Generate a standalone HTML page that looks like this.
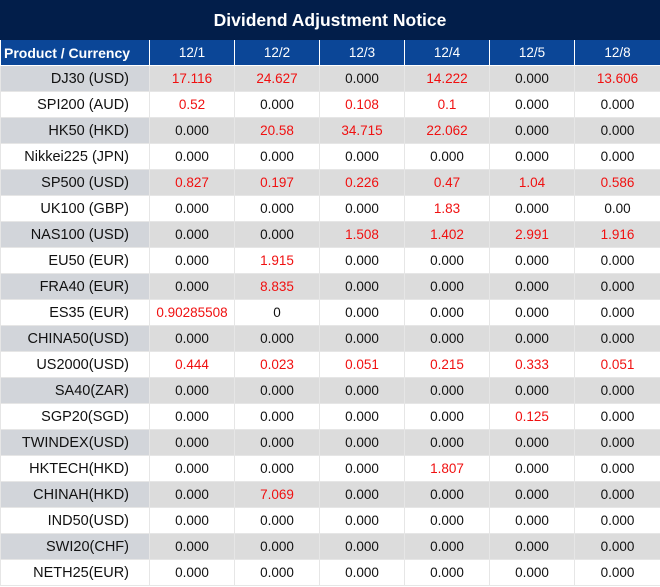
<!DOCTYPE html><html><head><style>
body{margin:0;width:660px;height:587px;overflow:hidden;background:#fff;font-family:"Liberation Sans",sans-serif}
.t{height:40px;background:#021e4a;color:#fff;font-weight:bold;font-size:17.5px;text-align:center;line-height:40px}
table{border-collapse:collapse;table-layout:fixed;width:660px}
td{height:25px;padding:0;border:1px solid #e6e6e6;font-size:13.5px;text-align:center;color:#111;white-space:nowrap}
tr.h td{background:#0b4697;color:#fff;border:1px solid #fff;border-top:none;font-size:13.5px}
tr.h td:first-child{font-weight:bold;text-align:left;padding-left:3px;font-size:14px}
td:first-child{text-align:right;padding-right:20px;font-size:14.5px}
tr.g td{background:#dcdcdc}
tr.g td:first-child{background:#d2d5da}
.r{color:#f01010}
</style></head><body>
<div class="t">Dividend Adjustment Notice</div>
<table>
<colgroup><col style="width:149px"><col style="width:85px"><col style="width:85px"><col style="width:85px"><col style="width:85px"><col style="width:85px"><col style="width:86px"></colgroup>
<tr class="h"><td>Product / Currency</td><td>12/1</td><td>12/2</td><td>12/3</td><td>12/4</td><td>12/5</td><td>12/8</td></tr>
<tr class="g"><td>DJ30 (USD)</td><td class="r">17.116</td><td class="r">24.627</td><td>0.000</td><td class="r">14.222</td><td>0.000</td><td class="r">13.606</td></tr>
<tr><td>SPI200 (AUD)</td><td class="r">0.52</td><td>0.000</td><td class="r">0.108</td><td class="r">0.1</td><td>0.000</td><td>0.000</td></tr>
<tr class="g"><td>HK50 (HKD)</td><td>0.000</td><td class="r">20.58</td><td class="r">34.715</td><td class="r">22.062</td><td>0.000</td><td>0.000</td></tr>
<tr><td>Nikkei225 (JPN)</td><td>0.000</td><td>0.000</td><td>0.000</td><td>0.000</td><td>0.000</td><td>0.000</td></tr>
<tr class="g"><td>SP500 (USD)</td><td class="r">0.827</td><td class="r">0.197</td><td class="r">0.226</td><td class="r">0.47</td><td class="r">1.04</td><td class="r">0.586</td></tr>
<tr><td>UK100 (GBP)</td><td>0.000</td><td>0.000</td><td>0.000</td><td class="r">1.83</td><td>0.000</td><td>0.00</td></tr>
<tr class="g"><td>NAS100 (USD)</td><td>0.000</td><td>0.000</td><td class="r">1.508</td><td class="r">1.402</td><td class="r">2.991</td><td class="r">1.916</td></tr>
<tr><td>EU50 (EUR)</td><td>0.000</td><td class="r">1.915</td><td>0.000</td><td>0.000</td><td>0.000</td><td>0.000</td></tr>
<tr class="g"><td>FRA40 (EUR)</td><td>0.000</td><td class="r">8.835</td><td>0.000</td><td>0.000</td><td>0.000</td><td>0.000</td></tr>
<tr><td>ES35 (EUR)</td><td class="r">0.90285508</td><td>0</td><td>0.000</td><td>0.000</td><td>0.000</td><td>0.000</td></tr>
<tr class="g"><td>CHINA50(USD)</td><td>0.000</td><td>0.000</td><td>0.000</td><td>0.000</td><td>0.000</td><td>0.000</td></tr>
<tr><td>US2000(USD)</td><td class="r">0.444</td><td class="r">0.023</td><td class="r">0.051</td><td class="r">0.215</td><td class="r">0.333</td><td class="r">0.051</td></tr>
<tr class="g"><td>SA40(ZAR)</td><td>0.000</td><td>0.000</td><td>0.000</td><td>0.000</td><td>0.000</td><td>0.000</td></tr>
<tr><td>SGP20(SGD)</td><td>0.000</td><td>0.000</td><td>0.000</td><td>0.000</td><td class="r">0.125</td><td>0.000</td></tr>
<tr class="g"><td>TWINDEX(USD)</td><td>0.000</td><td>0.000</td><td>0.000</td><td>0.000</td><td>0.000</td><td>0.000</td></tr>
<tr><td>HKTECH(HKD)</td><td>0.000</td><td>0.000</td><td>0.000</td><td class="r">1.807</td><td>0.000</td><td>0.000</td></tr>
<tr class="g"><td>CHINAH(HKD)</td><td>0.000</td><td class="r">7.069</td><td>0.000</td><td>0.000</td><td>0.000</td><td>0.000</td></tr>
<tr><td>IND50(USD)</td><td>0.000</td><td>0.000</td><td>0.000</td><td>0.000</td><td>0.000</td><td>0.000</td></tr>
<tr class="g"><td>SWI20(CHF)</td><td>0.000</td><td>0.000</td><td>0.000</td><td>0.000</td><td>0.000</td><td>0.000</td></tr>
<tr><td>NETH25(EUR)</td><td>0.000</td><td>0.000</td><td>0.000</td><td>0.000</td><td>0.000</td><td>0.000</td></tr>
</table>
</body></html>
